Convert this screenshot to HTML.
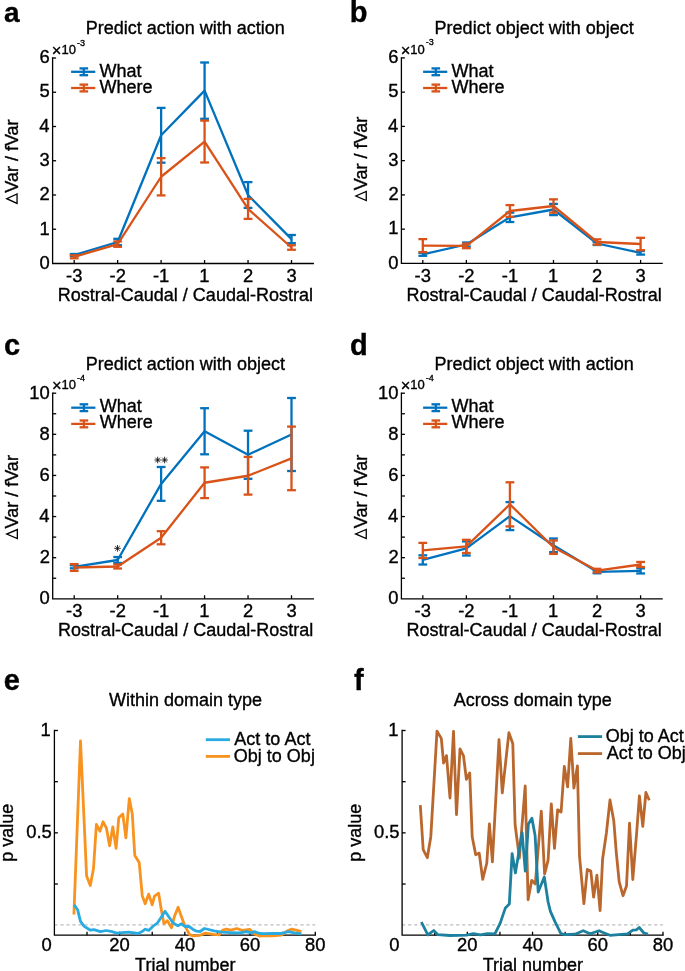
<!DOCTYPE html>
<html><head><meta charset="utf-8"><style>
html,body{margin:0;padding:0;background:#fff;width:685px;height:971px;overflow:hidden;}
svg{display:block;will-change:transform;}
text{font-family:"Liberation Sans",sans-serif;stroke:#000;stroke-width:0.35px;}
</style></head><body>
<svg width="685" height="971" viewBox="0 0 685 971">
<rect width="685" height="971" fill="#fff"/>
<path d="M52.60,58.00 L52.60,263.50 L313.30,263.50" fill="none" stroke="#000" stroke-width="1.3" stroke-linejoin="miter" stroke-linecap="square"/>
<text x="39.39" y="268.83" font-size="18.4" text-anchor="start" fill="#000">0</text>
<line x1="52.60" y1="229.25" x2="56.10" y2="229.25" stroke="#000" stroke-width="1.3"/>
<text x="39.57" y="234.58" font-size="18.4" text-anchor="start" fill="#000">1</text>
<line x1="52.60" y1="195.00" x2="56.10" y2="195.00" stroke="#000" stroke-width="1.3"/>
<text x="39.59" y="200.42" font-size="18.4" text-anchor="start" fill="#000">2</text>
<line x1="52.60" y1="160.75" x2="56.10" y2="160.75" stroke="#000" stroke-width="1.3"/>
<text x="39.48" y="166.08" font-size="18.4" text-anchor="start" fill="#000">3</text>
<line x1="52.60" y1="126.50" x2="56.10" y2="126.50" stroke="#000" stroke-width="1.3"/>
<text x="39.21" y="131.83" font-size="18.4" text-anchor="start" fill="#000">4</text>
<line x1="52.60" y1="92.25" x2="56.10" y2="92.25" stroke="#000" stroke-width="1.3"/>
<text x="39.44" y="97.49" font-size="18.4" text-anchor="start" fill="#000">5</text>
<line x1="52.60" y1="58.00" x2="56.10" y2="58.00" stroke="#000" stroke-width="1.3"/>
<text x="39.48" y="63.33" font-size="18.4" text-anchor="start" fill="#000">6</text>
<line x1="74.20" y1="263.50" x2="74.20" y2="260.00" stroke="#000" stroke-width="1.3"/>
<text x="66.02" y="281.85" font-size="18.4" text-anchor="start" fill="#000">-3</text>
<line x1="117.66" y1="263.50" x2="117.66" y2="260.00" stroke="#000" stroke-width="1.3"/>
<text x="109.53" y="281.85" font-size="18.4" text-anchor="start" fill="#000">-2</text>
<line x1="161.12" y1="263.50" x2="161.12" y2="260.00" stroke="#000" stroke-width="1.3"/>
<text x="152.98" y="281.66" font-size="18.4" text-anchor="start" fill="#000">-1</text>
<line x1="204.58" y1="263.50" x2="204.58" y2="260.00" stroke="#000" stroke-width="1.3"/>
<text x="199.21" y="281.66" font-size="18.4" text-anchor="start" fill="#000">1</text>
<line x1="248.04" y1="263.50" x2="248.04" y2="260.00" stroke="#000" stroke-width="1.3"/>
<text x="242.92" y="281.85" font-size="18.4" text-anchor="start" fill="#000">2</text>
<line x1="291.50" y1="263.50" x2="291.50" y2="260.00" stroke="#000" stroke-width="1.3"/>
<text x="286.44" y="281.85" font-size="18.4" text-anchor="start" fill="#000">3</text>
<text x="51.86" y="56.10" font-size="16.5" text-anchor="start" fill="#000">×</text>
<text x="61.41" y="53.80" font-size="13.0" text-anchor="start" fill="#000">10</text>
<text x="76.90" y="45.50" font-size="9.0" text-anchor="start" fill="#000">-3</text>
<text x="85.72" y="33.80" font-size="18" text-anchor="start" fill="#000">Predict action with action</text>
<text x="57.82" y="300.80" font-size="18" text-anchor="start" fill="#000">Rostral-Caudal / Caudal-Rostral</text>
<path d="M17.05,203.40 L17.05,193.90 L6.70,198.65 Z" fill="none" stroke="#000" stroke-width="1.3" stroke-linejoin="miter"/>
<text transform="translate(17.70,192.78) rotate(-90)" font-size="18">Var / fVar</text>
<text x="3.88" y="21.70" font-size="28" font-weight="bold" text-anchor="start" fill="#000">a</text>
<line x1="74.20" y1="254.00" x2="74.20" y2="256.00" stroke="#0072BD" stroke-width="2.3"/>
<line x1="69.80" y1="254.00" x2="78.60" y2="254.00" stroke="#0072BD" stroke-width="2.3"/>
<line x1="69.80" y1="256.00" x2="78.60" y2="256.00" stroke="#0072BD" stroke-width="2.3"/>
<line x1="117.66" y1="238.80" x2="117.66" y2="245.20" stroke="#0072BD" stroke-width="2.3"/>
<line x1="113.26" y1="238.80" x2="122.06" y2="238.80" stroke="#0072BD" stroke-width="2.3"/>
<line x1="113.26" y1="245.20" x2="122.06" y2="245.20" stroke="#0072BD" stroke-width="2.3"/>
<line x1="161.12" y1="107.90" x2="161.12" y2="162.70" stroke="#0072BD" stroke-width="2.3"/>
<line x1="156.72" y1="107.90" x2="165.52" y2="107.90" stroke="#0072BD" stroke-width="2.3"/>
<line x1="156.72" y1="162.70" x2="165.52" y2="162.70" stroke="#0072BD" stroke-width="2.3"/>
<line x1="204.58" y1="62.50" x2="204.58" y2="118.80" stroke="#0072BD" stroke-width="2.3"/>
<line x1="200.18" y1="62.50" x2="208.98" y2="62.50" stroke="#0072BD" stroke-width="2.3"/>
<line x1="200.18" y1="118.80" x2="208.98" y2="118.80" stroke="#0072BD" stroke-width="2.3"/>
<line x1="248.04" y1="182.10" x2="248.04" y2="207.90" stroke="#0072BD" stroke-width="2.3"/>
<line x1="243.64" y1="182.10" x2="252.44" y2="182.10" stroke="#0072BD" stroke-width="2.3"/>
<line x1="243.64" y1="207.90" x2="252.44" y2="207.90" stroke="#0072BD" stroke-width="2.3"/>
<line x1="291.50" y1="235.00" x2="291.50" y2="243.20" stroke="#0072BD" stroke-width="2.3"/>
<line x1="287.10" y1="235.00" x2="295.90" y2="235.00" stroke="#0072BD" stroke-width="2.3"/>
<line x1="287.10" y1="243.20" x2="295.90" y2="243.20" stroke="#0072BD" stroke-width="2.3"/>
<polyline points="74.20,255.00 117.66,242.00 161.12,135.30 204.58,90.65 248.04,195.00 291.50,239.10" fill="none" stroke="#0072BD" stroke-width="2.3" stroke-linejoin="round" stroke-linecap="butt"/>
<line x1="74.20" y1="255.30" x2="74.20" y2="258.30" stroke="#D95319" stroke-width="2.3"/>
<line x1="69.80" y1="255.30" x2="78.60" y2="255.30" stroke="#D95319" stroke-width="2.3"/>
<line x1="69.80" y1="258.30" x2="78.60" y2="258.30" stroke="#D95319" stroke-width="2.3"/>
<line x1="117.66" y1="241.40" x2="117.66" y2="246.80" stroke="#D95319" stroke-width="2.3"/>
<line x1="113.26" y1="241.40" x2="122.06" y2="241.40" stroke="#D95319" stroke-width="2.3"/>
<line x1="113.26" y1="246.80" x2="122.06" y2="246.80" stroke="#D95319" stroke-width="2.3"/>
<line x1="161.12" y1="158.10" x2="161.12" y2="195.40" stroke="#D95319" stroke-width="2.3"/>
<line x1="156.72" y1="158.10" x2="165.52" y2="158.10" stroke="#D95319" stroke-width="2.3"/>
<line x1="156.72" y1="195.40" x2="165.52" y2="195.40" stroke="#D95319" stroke-width="2.3"/>
<line x1="204.58" y1="120.60" x2="204.58" y2="162.50" stroke="#D95319" stroke-width="2.3"/>
<line x1="200.18" y1="120.60" x2="208.98" y2="120.60" stroke="#D95319" stroke-width="2.3"/>
<line x1="200.18" y1="162.50" x2="208.98" y2="162.50" stroke="#D95319" stroke-width="2.3"/>
<line x1="248.04" y1="198.90" x2="248.04" y2="218.90" stroke="#D95319" stroke-width="2.3"/>
<line x1="243.64" y1="198.90" x2="252.44" y2="198.90" stroke="#D95319" stroke-width="2.3"/>
<line x1="243.64" y1="218.90" x2="252.44" y2="218.90" stroke="#D95319" stroke-width="2.3"/>
<line x1="291.50" y1="245.25" x2="291.50" y2="249.75" stroke="#D95319" stroke-width="2.3"/>
<line x1="287.10" y1="245.25" x2="295.90" y2="245.25" stroke="#D95319" stroke-width="2.3"/>
<line x1="287.10" y1="249.75" x2="295.90" y2="249.75" stroke="#D95319" stroke-width="2.3"/>
<polyline points="74.20,256.80 117.66,244.10 161.12,176.75 204.58,141.55 248.04,208.90 291.50,247.50" fill="none" stroke="#D95319" stroke-width="2.3" stroke-linejoin="round" stroke-linecap="butt"/>
<line x1="71.10" y1="71.80" x2="95.30" y2="71.80" stroke="#0072BD" stroke-width="2.3"/>
<line x1="83.80" y1="68.40" x2="83.80" y2="75.20" stroke="#0072BD" stroke-width="2.3"/>
<line x1="79.50" y1="68.40" x2="88.10" y2="68.40" stroke="#0072BD" stroke-width="2.3"/>
<line x1="79.50" y1="75.20" x2="88.10" y2="75.20" stroke="#0072BD" stroke-width="2.3"/>
<line x1="71.10" y1="88.00" x2="95.30" y2="88.00" stroke="#D95319" stroke-width="2.3"/>
<line x1="83.80" y1="84.60" x2="83.80" y2="91.40" stroke="#D95319" stroke-width="2.3"/>
<line x1="79.50" y1="84.60" x2="88.10" y2="84.60" stroke="#D95319" stroke-width="2.3"/>
<line x1="79.50" y1="91.40" x2="88.10" y2="91.40" stroke="#D95319" stroke-width="2.3"/>
<text x="99.62" y="76.50" font-size="18" text-anchor="start" fill="#000">What</text>
<text x="99.62" y="92.50" font-size="18" text-anchor="start" fill="#000">Where</text>
<path d="M401.40,57.90 L401.40,263.40 L662.10,263.40" fill="none" stroke="#000" stroke-width="1.3" stroke-linejoin="miter" stroke-linecap="square"/>
<text x="388.19" y="268.73" font-size="18.4" text-anchor="start" fill="#000">0</text>
<line x1="401.40" y1="229.15" x2="404.90" y2="229.15" stroke="#000" stroke-width="1.3"/>
<text x="388.37" y="234.48" font-size="18.4" text-anchor="start" fill="#000">1</text>
<line x1="401.40" y1="194.90" x2="404.90" y2="194.90" stroke="#000" stroke-width="1.3"/>
<text x="388.39" y="200.32" font-size="18.4" text-anchor="start" fill="#000">2</text>
<line x1="401.40" y1="160.65" x2="404.90" y2="160.65" stroke="#000" stroke-width="1.3"/>
<text x="388.28" y="165.98" font-size="18.4" text-anchor="start" fill="#000">3</text>
<line x1="401.40" y1="126.40" x2="404.90" y2="126.40" stroke="#000" stroke-width="1.3"/>
<text x="388.01" y="131.73" font-size="18.4" text-anchor="start" fill="#000">4</text>
<line x1="401.40" y1="92.15" x2="404.90" y2="92.15" stroke="#000" stroke-width="1.3"/>
<text x="388.24" y="97.39" font-size="18.4" text-anchor="start" fill="#000">5</text>
<line x1="401.40" y1="57.90" x2="404.90" y2="57.90" stroke="#000" stroke-width="1.3"/>
<text x="388.28" y="63.23" font-size="18.4" text-anchor="start" fill="#000">6</text>
<line x1="422.80" y1="263.40" x2="422.80" y2="259.90" stroke="#000" stroke-width="1.3"/>
<text x="414.62" y="281.75" font-size="18.4" text-anchor="start" fill="#000">-3</text>
<line x1="466.36" y1="263.40" x2="466.36" y2="259.90" stroke="#000" stroke-width="1.3"/>
<text x="458.23" y="281.75" font-size="18.4" text-anchor="start" fill="#000">-2</text>
<line x1="509.92" y1="263.40" x2="509.92" y2="259.90" stroke="#000" stroke-width="1.3"/>
<text x="501.78" y="281.56" font-size="18.4" text-anchor="start" fill="#000">-1</text>
<line x1="553.48" y1="263.40" x2="553.48" y2="259.90" stroke="#000" stroke-width="1.3"/>
<text x="548.11" y="281.56" font-size="18.4" text-anchor="start" fill="#000">1</text>
<line x1="597.04" y1="263.40" x2="597.04" y2="259.90" stroke="#000" stroke-width="1.3"/>
<text x="591.92" y="281.75" font-size="18.4" text-anchor="start" fill="#000">2</text>
<line x1="640.60" y1="263.40" x2="640.60" y2="259.90" stroke="#000" stroke-width="1.3"/>
<text x="635.54" y="281.75" font-size="18.4" text-anchor="start" fill="#000">3</text>
<text x="400.66" y="56.00" font-size="16.5" text-anchor="start" fill="#000">×</text>
<text x="410.21" y="53.70" font-size="13.0" text-anchor="start" fill="#000">10</text>
<text x="425.70" y="45.40" font-size="9.0" text-anchor="start" fill="#000">-3</text>
<text x="434.62" y="33.90" font-size="18" text-anchor="start" fill="#000">Predict object with object</text>
<text x="406.62" y="300.80" font-size="18" text-anchor="start" fill="#000">Rostral-Caudal / Caudal-Rostral</text>
<path d="M366.25,200.50 L366.25,191.50 L355.90,196.00 Z" fill="none" stroke="#000" stroke-width="1.3" stroke-linejoin="miter"/>
<text transform="translate(366.60,190.18) rotate(-90)" font-size="18">Var / fVar</text>
<text x="349.79" y="21.80" font-size="29" font-weight="bold" text-anchor="start" fill="#000">b</text>
<line x1="422.80" y1="252.80" x2="422.80" y2="255.80" stroke="#0072BD" stroke-width="2.3"/>
<line x1="418.40" y1="252.80" x2="427.20" y2="252.80" stroke="#0072BD" stroke-width="2.3"/>
<line x1="418.40" y1="255.80" x2="427.20" y2="255.80" stroke="#0072BD" stroke-width="2.3"/>
<line x1="466.36" y1="242.50" x2="466.36" y2="246.50" stroke="#0072BD" stroke-width="2.3"/>
<line x1="461.96" y1="242.50" x2="470.76" y2="242.50" stroke="#0072BD" stroke-width="2.3"/>
<line x1="461.96" y1="246.50" x2="470.76" y2="246.50" stroke="#0072BD" stroke-width="2.3"/>
<line x1="509.92" y1="212.60" x2="509.92" y2="222.00" stroke="#0072BD" stroke-width="2.3"/>
<line x1="505.52" y1="212.60" x2="514.32" y2="212.60" stroke="#0072BD" stroke-width="2.3"/>
<line x1="505.52" y1="222.00" x2="514.32" y2="222.00" stroke="#0072BD" stroke-width="2.3"/>
<line x1="553.48" y1="203.90" x2="553.48" y2="215.10" stroke="#0072BD" stroke-width="2.3"/>
<line x1="549.08" y1="203.90" x2="557.88" y2="203.90" stroke="#0072BD" stroke-width="2.3"/>
<line x1="549.08" y1="215.10" x2="557.88" y2="215.10" stroke="#0072BD" stroke-width="2.3"/>
<line x1="597.04" y1="242.00" x2="597.04" y2="245.00" stroke="#0072BD" stroke-width="2.3"/>
<line x1="592.64" y1="242.00" x2="601.44" y2="242.00" stroke="#0072BD" stroke-width="2.3"/>
<line x1="592.64" y1="245.00" x2="601.44" y2="245.00" stroke="#0072BD" stroke-width="2.3"/>
<line x1="640.60" y1="251.00" x2="640.60" y2="254.60" stroke="#0072BD" stroke-width="2.3"/>
<line x1="636.20" y1="251.00" x2="645.00" y2="251.00" stroke="#0072BD" stroke-width="2.3"/>
<line x1="636.20" y1="254.60" x2="645.00" y2="254.60" stroke="#0072BD" stroke-width="2.3"/>
<polyline points="422.80,254.30 466.36,244.50 509.92,217.30 553.48,209.50 597.04,243.50 640.60,252.80" fill="none" stroke="#0072BD" stroke-width="2.3" stroke-linejoin="round" stroke-linecap="butt"/>
<line x1="422.80" y1="239.10" x2="422.80" y2="252.10" stroke="#D95319" stroke-width="2.3"/>
<line x1="418.40" y1="239.10" x2="427.20" y2="239.10" stroke="#D95319" stroke-width="2.3"/>
<line x1="418.40" y1="252.10" x2="427.20" y2="252.10" stroke="#D95319" stroke-width="2.3"/>
<line x1="466.36" y1="243.60" x2="466.36" y2="248.20" stroke="#D95319" stroke-width="2.3"/>
<line x1="461.96" y1="243.60" x2="470.76" y2="243.60" stroke="#D95319" stroke-width="2.3"/>
<line x1="461.96" y1="248.20" x2="470.76" y2="248.20" stroke="#D95319" stroke-width="2.3"/>
<line x1="509.92" y1="205.10" x2="509.92" y2="216.90" stroke="#D95319" stroke-width="2.3"/>
<line x1="505.52" y1="205.10" x2="514.32" y2="205.10" stroke="#D95319" stroke-width="2.3"/>
<line x1="505.52" y1="216.90" x2="514.32" y2="216.90" stroke="#D95319" stroke-width="2.3"/>
<line x1="553.48" y1="199.35" x2="553.48" y2="212.65" stroke="#D95319" stroke-width="2.3"/>
<line x1="549.08" y1="199.35" x2="557.88" y2="199.35" stroke="#D95319" stroke-width="2.3"/>
<line x1="549.08" y1="212.65" x2="557.88" y2="212.65" stroke="#D95319" stroke-width="2.3"/>
<line x1="597.04" y1="239.35" x2="597.04" y2="244.65" stroke="#D95319" stroke-width="2.3"/>
<line x1="592.64" y1="239.35" x2="601.44" y2="239.35" stroke="#D95319" stroke-width="2.3"/>
<line x1="592.64" y1="244.65" x2="601.44" y2="244.65" stroke="#D95319" stroke-width="2.3"/>
<line x1="640.60" y1="237.80" x2="640.60" y2="250.20" stroke="#D95319" stroke-width="2.3"/>
<line x1="636.20" y1="237.80" x2="645.00" y2="237.80" stroke="#D95319" stroke-width="2.3"/>
<line x1="636.20" y1="250.20" x2="645.00" y2="250.20" stroke="#D95319" stroke-width="2.3"/>
<polyline points="422.80,245.60 466.36,245.90 509.92,211.00 553.48,206.00 597.04,242.00 640.60,244.00" fill="none" stroke="#D95319" stroke-width="2.3" stroke-linejoin="round" stroke-linecap="butt"/>
<line x1="423.10" y1="71.80" x2="447.30" y2="71.80" stroke="#0072BD" stroke-width="2.3"/>
<line x1="435.80" y1="68.40" x2="435.80" y2="75.20" stroke="#0072BD" stroke-width="2.3"/>
<line x1="431.50" y1="68.40" x2="440.10" y2="68.40" stroke="#0072BD" stroke-width="2.3"/>
<line x1="431.50" y1="75.20" x2="440.10" y2="75.20" stroke="#0072BD" stroke-width="2.3"/>
<line x1="423.10" y1="88.00" x2="447.30" y2="88.00" stroke="#D95319" stroke-width="2.3"/>
<line x1="435.80" y1="84.60" x2="435.80" y2="91.40" stroke="#D95319" stroke-width="2.3"/>
<line x1="431.50" y1="84.60" x2="440.10" y2="84.60" stroke="#D95319" stroke-width="2.3"/>
<line x1="431.50" y1="91.40" x2="440.10" y2="91.40" stroke="#D95319" stroke-width="2.3"/>
<text x="451.62" y="76.50" font-size="18" text-anchor="start" fill="#000">What</text>
<text x="451.62" y="92.50" font-size="18" text-anchor="start" fill="#000">Where</text>
<path d="M52.70,393.20 L52.70,598.80 L313.40,598.80" fill="none" stroke="#000" stroke-width="1.3" stroke-linejoin="miter" stroke-linecap="square"/>
<text x="39.49" y="604.13" font-size="18.4" text-anchor="start" fill="#000">0</text>
<line x1="52.70" y1="578.24" x2="56.20" y2="578.24" stroke="#000" stroke-width="1.3"/>
<line x1="52.70" y1="557.68" x2="56.20" y2="557.68" stroke="#000" stroke-width="1.3"/>
<text x="39.69" y="563.10" font-size="18.4" text-anchor="start" fill="#000">2</text>
<line x1="52.70" y1="537.12" x2="56.20" y2="537.12" stroke="#000" stroke-width="1.3"/>
<line x1="52.70" y1="516.56" x2="56.20" y2="516.56" stroke="#000" stroke-width="1.3"/>
<text x="39.31" y="521.89" font-size="18.4" text-anchor="start" fill="#000">4</text>
<line x1="52.70" y1="496.00" x2="56.20" y2="496.00" stroke="#000" stroke-width="1.3"/>
<line x1="52.70" y1="475.44" x2="56.20" y2="475.44" stroke="#000" stroke-width="1.3"/>
<text x="39.58" y="480.77" font-size="18.4" text-anchor="start" fill="#000">6</text>
<line x1="52.70" y1="454.88" x2="56.20" y2="454.88" stroke="#000" stroke-width="1.3"/>
<line x1="52.70" y1="434.32" x2="56.20" y2="434.32" stroke="#000" stroke-width="1.3"/>
<text x="39.57" y="439.65" font-size="18.4" text-anchor="start" fill="#000">8</text>
<line x1="52.70" y1="413.76" x2="56.20" y2="413.76" stroke="#000" stroke-width="1.3"/>
<line x1="52.70" y1="393.20" x2="56.20" y2="393.20" stroke="#000" stroke-width="1.3"/>
<text x="29.25" y="398.53" font-size="18.4" text-anchor="start" fill="#000">10</text>
<line x1="74.20" y1="598.80" x2="74.20" y2="595.30" stroke="#000" stroke-width="1.3"/>
<text x="66.02" y="617.15" font-size="18.4" text-anchor="start" fill="#000">-3</text>
<line x1="117.66" y1="598.80" x2="117.66" y2="595.30" stroke="#000" stroke-width="1.3"/>
<text x="109.53" y="617.15" font-size="18.4" text-anchor="start" fill="#000">-2</text>
<line x1="161.12" y1="598.80" x2="161.12" y2="595.30" stroke="#000" stroke-width="1.3"/>
<text x="152.98" y="616.96" font-size="18.4" text-anchor="start" fill="#000">-1</text>
<line x1="204.58" y1="598.80" x2="204.58" y2="595.30" stroke="#000" stroke-width="1.3"/>
<text x="199.21" y="616.96" font-size="18.4" text-anchor="start" fill="#000">1</text>
<line x1="248.04" y1="598.80" x2="248.04" y2="595.30" stroke="#000" stroke-width="1.3"/>
<text x="242.92" y="617.15" font-size="18.4" text-anchor="start" fill="#000">2</text>
<line x1="291.50" y1="598.80" x2="291.50" y2="595.30" stroke="#000" stroke-width="1.3"/>
<text x="286.44" y="617.15" font-size="18.4" text-anchor="start" fill="#000">3</text>
<text x="51.96" y="391.30" font-size="16.5" text-anchor="start" fill="#000">×</text>
<text x="61.51" y="389.00" font-size="13.0" text-anchor="start" fill="#000">10</text>
<text x="77.00" y="380.70" font-size="9.0" text-anchor="start" fill="#000">-4</text>
<text x="85.82" y="369.50" font-size="18" text-anchor="start" fill="#000">Predict action with object</text>
<text x="58.12" y="636.40" font-size="18" text-anchor="start" fill="#000">Rostral-Caudal / Caudal-Rostral</text>
<path d="M17.35,538.60 L17.35,529.55 L6.70,534.08 Z" fill="none" stroke="#000" stroke-width="1.3" stroke-linejoin="miter"/>
<text transform="translate(17.80,528.48) rotate(-90)" font-size="18">Var / fVar</text>
<text x="3.97" y="355.30" font-size="29" font-weight="bold" text-anchor="start" fill="#000">c</text>
<line x1="74.20" y1="565.30" x2="74.20" y2="568.30" stroke="#0072BD" stroke-width="2.3"/>
<line x1="69.80" y1="565.30" x2="78.60" y2="565.30" stroke="#0072BD" stroke-width="2.3"/>
<line x1="69.80" y1="568.30" x2="78.60" y2="568.30" stroke="#0072BD" stroke-width="2.3"/>
<line x1="117.66" y1="557.05" x2="117.66" y2="562.95" stroke="#0072BD" stroke-width="2.3"/>
<line x1="113.26" y1="557.05" x2="122.06" y2="557.05" stroke="#0072BD" stroke-width="2.3"/>
<line x1="113.26" y1="562.95" x2="122.06" y2="562.95" stroke="#0072BD" stroke-width="2.3"/>
<line x1="161.12" y1="467.00" x2="161.12" y2="500.80" stroke="#0072BD" stroke-width="2.3"/>
<line x1="156.72" y1="467.00" x2="165.52" y2="467.00" stroke="#0072BD" stroke-width="2.3"/>
<line x1="156.72" y1="500.80" x2="165.52" y2="500.80" stroke="#0072BD" stroke-width="2.3"/>
<line x1="204.58" y1="408.20" x2="204.58" y2="454.30" stroke="#0072BD" stroke-width="2.3"/>
<line x1="200.18" y1="408.20" x2="208.98" y2="408.20" stroke="#0072BD" stroke-width="2.3"/>
<line x1="200.18" y1="454.30" x2="208.98" y2="454.30" stroke="#0072BD" stroke-width="2.3"/>
<line x1="248.04" y1="430.70" x2="248.04" y2="478.80" stroke="#0072BD" stroke-width="2.3"/>
<line x1="243.64" y1="430.70" x2="252.44" y2="430.70" stroke="#0072BD" stroke-width="2.3"/>
<line x1="243.64" y1="478.80" x2="252.44" y2="478.80" stroke="#0072BD" stroke-width="2.3"/>
<line x1="291.50" y1="398.00" x2="291.50" y2="471.00" stroke="#0072BD" stroke-width="2.3"/>
<line x1="287.10" y1="398.00" x2="295.90" y2="398.00" stroke="#0072BD" stroke-width="2.3"/>
<line x1="287.10" y1="471.00" x2="295.90" y2="471.00" stroke="#0072BD" stroke-width="2.3"/>
<polyline points="74.20,566.80 117.66,560.00 161.12,483.90 204.58,431.25 248.04,454.75 291.50,434.50" fill="none" stroke="#0072BD" stroke-width="2.3" stroke-linejoin="round" stroke-linecap="butt"/>
<line x1="74.20" y1="564.10" x2="74.20" y2="570.90" stroke="#D95319" stroke-width="2.3"/>
<line x1="69.80" y1="564.10" x2="78.60" y2="564.10" stroke="#D95319" stroke-width="2.3"/>
<line x1="69.80" y1="570.90" x2="78.60" y2="570.90" stroke="#D95319" stroke-width="2.3"/>
<line x1="117.66" y1="564.50" x2="117.66" y2="568.50" stroke="#D95319" stroke-width="2.3"/>
<line x1="113.26" y1="564.50" x2="122.06" y2="564.50" stroke="#D95319" stroke-width="2.3"/>
<line x1="113.26" y1="568.50" x2="122.06" y2="568.50" stroke="#D95319" stroke-width="2.3"/>
<line x1="161.12" y1="531.20" x2="161.12" y2="544.30" stroke="#D95319" stroke-width="2.3"/>
<line x1="156.72" y1="531.20" x2="165.52" y2="531.20" stroke="#D95319" stroke-width="2.3"/>
<line x1="156.72" y1="544.30" x2="165.52" y2="544.30" stroke="#D95319" stroke-width="2.3"/>
<line x1="204.58" y1="467.40" x2="204.58" y2="498.10" stroke="#D95319" stroke-width="2.3"/>
<line x1="200.18" y1="467.40" x2="208.98" y2="467.40" stroke="#D95319" stroke-width="2.3"/>
<line x1="200.18" y1="498.10" x2="208.98" y2="498.10" stroke="#D95319" stroke-width="2.3"/>
<line x1="248.04" y1="456.90" x2="248.04" y2="494.60" stroke="#D95319" stroke-width="2.3"/>
<line x1="243.64" y1="456.90" x2="252.44" y2="456.90" stroke="#D95319" stroke-width="2.3"/>
<line x1="243.64" y1="494.60" x2="252.44" y2="494.60" stroke="#D95319" stroke-width="2.3"/>
<line x1="291.50" y1="426.60" x2="291.50" y2="490.20" stroke="#D95319" stroke-width="2.3"/>
<line x1="287.10" y1="426.60" x2="295.90" y2="426.60" stroke="#D95319" stroke-width="2.3"/>
<line x1="287.10" y1="490.20" x2="295.90" y2="490.20" stroke="#D95319" stroke-width="2.3"/>
<polyline points="74.20,567.50 117.66,566.50 161.12,537.75 204.58,482.75 248.04,475.75 291.50,458.40" fill="none" stroke="#D95319" stroke-width="2.3" stroke-linejoin="round" stroke-linecap="butt"/>
<line x1="71.20" y1="407.70" x2="95.40" y2="407.70" stroke="#0072BD" stroke-width="2.3"/>
<line x1="83.90" y1="404.30" x2="83.90" y2="411.10" stroke="#0072BD" stroke-width="2.3"/>
<line x1="79.60" y1="404.30" x2="88.20" y2="404.30" stroke="#0072BD" stroke-width="2.3"/>
<line x1="79.60" y1="411.10" x2="88.20" y2="411.10" stroke="#0072BD" stroke-width="2.3"/>
<line x1="71.20" y1="423.90" x2="95.40" y2="423.90" stroke="#D95319" stroke-width="2.3"/>
<line x1="83.90" y1="420.50" x2="83.90" y2="427.30" stroke="#D95319" stroke-width="2.3"/>
<line x1="79.60" y1="420.50" x2="88.20" y2="420.50" stroke="#D95319" stroke-width="2.3"/>
<line x1="79.60" y1="427.30" x2="88.20" y2="427.30" stroke="#D95319" stroke-width="2.3"/>
<text x="99.72" y="412.40" font-size="18" text-anchor="start" fill="#000">What</text>
<text x="99.72" y="428.40" font-size="18" text-anchor="start" fill="#000">Where</text>
<path d="M401.40,393.20 L401.40,598.80 L662.10,598.80" fill="none" stroke="#000" stroke-width="1.3" stroke-linejoin="miter" stroke-linecap="square"/>
<text x="388.19" y="604.13" font-size="18.4" text-anchor="start" fill="#000">0</text>
<line x1="401.40" y1="578.24" x2="404.90" y2="578.24" stroke="#000" stroke-width="1.3"/>
<line x1="401.40" y1="557.68" x2="404.90" y2="557.68" stroke="#000" stroke-width="1.3"/>
<text x="388.39" y="563.10" font-size="18.4" text-anchor="start" fill="#000">2</text>
<line x1="401.40" y1="537.12" x2="404.90" y2="537.12" stroke="#000" stroke-width="1.3"/>
<line x1="401.40" y1="516.56" x2="404.90" y2="516.56" stroke="#000" stroke-width="1.3"/>
<text x="388.01" y="521.89" font-size="18.4" text-anchor="start" fill="#000">4</text>
<line x1="401.40" y1="496.00" x2="404.90" y2="496.00" stroke="#000" stroke-width="1.3"/>
<line x1="401.40" y1="475.44" x2="404.90" y2="475.44" stroke="#000" stroke-width="1.3"/>
<text x="388.28" y="480.77" font-size="18.4" text-anchor="start" fill="#000">6</text>
<line x1="401.40" y1="454.88" x2="404.90" y2="454.88" stroke="#000" stroke-width="1.3"/>
<line x1="401.40" y1="434.32" x2="404.90" y2="434.32" stroke="#000" stroke-width="1.3"/>
<text x="388.27" y="439.65" font-size="18.4" text-anchor="start" fill="#000">8</text>
<line x1="401.40" y1="413.76" x2="404.90" y2="413.76" stroke="#000" stroke-width="1.3"/>
<line x1="401.40" y1="393.20" x2="404.90" y2="393.20" stroke="#000" stroke-width="1.3"/>
<text x="377.95" y="398.53" font-size="18.4" text-anchor="start" fill="#000">10</text>
<line x1="422.80" y1="598.80" x2="422.80" y2="595.30" stroke="#000" stroke-width="1.3"/>
<text x="414.62" y="617.15" font-size="18.4" text-anchor="start" fill="#000">-3</text>
<line x1="466.36" y1="598.80" x2="466.36" y2="595.30" stroke="#000" stroke-width="1.3"/>
<text x="458.23" y="617.15" font-size="18.4" text-anchor="start" fill="#000">-2</text>
<line x1="509.92" y1="598.80" x2="509.92" y2="595.30" stroke="#000" stroke-width="1.3"/>
<text x="501.78" y="616.96" font-size="18.4" text-anchor="start" fill="#000">-1</text>
<line x1="553.48" y1="598.80" x2="553.48" y2="595.30" stroke="#000" stroke-width="1.3"/>
<text x="548.11" y="616.96" font-size="18.4" text-anchor="start" fill="#000">1</text>
<line x1="597.04" y1="598.80" x2="597.04" y2="595.30" stroke="#000" stroke-width="1.3"/>
<text x="591.92" y="617.15" font-size="18.4" text-anchor="start" fill="#000">2</text>
<line x1="640.60" y1="598.80" x2="640.60" y2="595.30" stroke="#000" stroke-width="1.3"/>
<text x="635.54" y="617.15" font-size="18.4" text-anchor="start" fill="#000">3</text>
<text x="400.66" y="391.30" font-size="16.5" text-anchor="start" fill="#000">×</text>
<text x="410.21" y="389.00" font-size="13.0" text-anchor="start" fill="#000">10</text>
<text x="425.70" y="380.70" font-size="9.0" text-anchor="start" fill="#000">-4</text>
<text x="434.62" y="369.60" font-size="18" text-anchor="start" fill="#000">Predict object with action</text>
<text x="406.62" y="636.30" font-size="18" text-anchor="start" fill="#000">Rostral-Caudal / Caudal-Rostral</text>
<path d="M366.25,538.50 L366.25,529.40 L355.60,533.95 Z" fill="none" stroke="#000" stroke-width="1.3" stroke-linejoin="miter"/>
<text transform="translate(366.60,528.18) rotate(-90)" font-size="18">Var / fVar</text>
<text x="349.91" y="355.30" font-size="29" font-weight="bold" text-anchor="start" fill="#000">d</text>
<line x1="422.80" y1="555.30" x2="422.80" y2="564.50" stroke="#0072BD" stroke-width="2.3"/>
<line x1="418.40" y1="555.30" x2="427.20" y2="555.30" stroke="#0072BD" stroke-width="2.3"/>
<line x1="418.40" y1="564.50" x2="427.20" y2="564.50" stroke="#0072BD" stroke-width="2.3"/>
<line x1="466.36" y1="541.40" x2="466.36" y2="555.50" stroke="#0072BD" stroke-width="2.3"/>
<line x1="461.96" y1="541.40" x2="470.76" y2="541.40" stroke="#0072BD" stroke-width="2.3"/>
<line x1="461.96" y1="555.50" x2="470.76" y2="555.50" stroke="#0072BD" stroke-width="2.3"/>
<line x1="509.92" y1="502.10" x2="509.92" y2="530.10" stroke="#0072BD" stroke-width="2.3"/>
<line x1="505.52" y1="502.10" x2="514.32" y2="502.10" stroke="#0072BD" stroke-width="2.3"/>
<line x1="505.52" y1="530.10" x2="514.32" y2="530.10" stroke="#0072BD" stroke-width="2.3"/>
<line x1="553.48" y1="538.50" x2="553.48" y2="552.10" stroke="#0072BD" stroke-width="2.3"/>
<line x1="549.08" y1="538.50" x2="557.88" y2="538.50" stroke="#0072BD" stroke-width="2.3"/>
<line x1="549.08" y1="552.10" x2="557.88" y2="552.10" stroke="#0072BD" stroke-width="2.3"/>
<line x1="597.04" y1="570.30" x2="597.04" y2="573.30" stroke="#0072BD" stroke-width="2.3"/>
<line x1="592.64" y1="570.30" x2="601.44" y2="570.30" stroke="#0072BD" stroke-width="2.3"/>
<line x1="592.64" y1="573.30" x2="601.44" y2="573.30" stroke="#0072BD" stroke-width="2.3"/>
<line x1="640.60" y1="568.35" x2="640.60" y2="573.45" stroke="#0072BD" stroke-width="2.3"/>
<line x1="636.20" y1="568.35" x2="645.00" y2="568.35" stroke="#0072BD" stroke-width="2.3"/>
<line x1="636.20" y1="573.45" x2="645.00" y2="573.45" stroke="#0072BD" stroke-width="2.3"/>
<polyline points="422.80,559.90 466.36,548.45 509.92,516.10 553.48,545.30 597.04,571.80 640.60,570.90" fill="none" stroke="#0072BD" stroke-width="2.3" stroke-linejoin="round" stroke-linecap="butt"/>
<line x1="422.80" y1="542.90" x2="422.80" y2="558.00" stroke="#D95319" stroke-width="2.3"/>
<line x1="418.40" y1="542.90" x2="427.20" y2="542.90" stroke="#D95319" stroke-width="2.3"/>
<line x1="418.40" y1="558.00" x2="427.20" y2="558.00" stroke="#D95319" stroke-width="2.3"/>
<line x1="466.36" y1="539.80" x2="466.36" y2="553.00" stroke="#D95319" stroke-width="2.3"/>
<line x1="461.96" y1="539.80" x2="470.76" y2="539.80" stroke="#D95319" stroke-width="2.3"/>
<line x1="461.96" y1="553.00" x2="470.76" y2="553.00" stroke="#D95319" stroke-width="2.3"/>
<line x1="509.92" y1="482.30" x2="509.92" y2="526.40" stroke="#D95319" stroke-width="2.3"/>
<line x1="505.52" y1="482.30" x2="514.32" y2="482.30" stroke="#D95319" stroke-width="2.3"/>
<line x1="505.52" y1="526.40" x2="514.32" y2="526.40" stroke="#D95319" stroke-width="2.3"/>
<line x1="553.48" y1="540.50" x2="553.48" y2="553.90" stroke="#D95319" stroke-width="2.3"/>
<line x1="549.08" y1="540.50" x2="557.88" y2="540.50" stroke="#D95319" stroke-width="2.3"/>
<line x1="549.08" y1="553.90" x2="557.88" y2="553.90" stroke="#D95319" stroke-width="2.3"/>
<line x1="597.04" y1="568.80" x2="597.04" y2="572.40" stroke="#D95319" stroke-width="2.3"/>
<line x1="592.64" y1="568.80" x2="601.44" y2="568.80" stroke="#D95319" stroke-width="2.3"/>
<line x1="592.64" y1="572.40" x2="601.44" y2="572.40" stroke="#D95319" stroke-width="2.3"/>
<line x1="640.60" y1="561.95" x2="640.60" y2="567.05" stroke="#D95319" stroke-width="2.3"/>
<line x1="636.20" y1="561.95" x2="645.00" y2="561.95" stroke="#D95319" stroke-width="2.3"/>
<line x1="636.20" y1="567.05" x2="645.00" y2="567.05" stroke="#D95319" stroke-width="2.3"/>
<polyline points="422.80,550.45 466.36,546.40 509.92,504.35 553.48,547.20 597.04,570.60 640.60,564.50" fill="none" stroke="#D95319" stroke-width="2.3" stroke-linejoin="round" stroke-linecap="butt"/>
<line x1="423.10" y1="407.70" x2="447.30" y2="407.70" stroke="#0072BD" stroke-width="2.3"/>
<line x1="435.80" y1="404.30" x2="435.80" y2="411.10" stroke="#0072BD" stroke-width="2.3"/>
<line x1="431.50" y1="404.30" x2="440.10" y2="404.30" stroke="#0072BD" stroke-width="2.3"/>
<line x1="431.50" y1="411.10" x2="440.10" y2="411.10" stroke="#0072BD" stroke-width="2.3"/>
<line x1="423.10" y1="423.90" x2="447.30" y2="423.90" stroke="#D95319" stroke-width="2.3"/>
<line x1="435.80" y1="420.50" x2="435.80" y2="427.30" stroke="#D95319" stroke-width="2.3"/>
<line x1="431.50" y1="420.50" x2="440.10" y2="420.50" stroke="#D95319" stroke-width="2.3"/>
<line x1="431.50" y1="427.30" x2="440.10" y2="427.30" stroke="#D95319" stroke-width="2.3"/>
<text x="451.62" y="412.40" font-size="18" text-anchor="start" fill="#000">What</text>
<text x="451.62" y="428.40" font-size="18" text-anchor="start" fill="#000">Where</text>
<line x1="114.20" y1="548.30" x2="120.80" y2="548.30" stroke="#000" stroke-width="0.8"/>
<line x1="115.17" y1="545.97" x2="119.83" y2="550.63" stroke="#000" stroke-width="0.8"/>
<line x1="117.50" y1="545.00" x2="117.50" y2="551.60" stroke="#000" stroke-width="0.8"/>
<line x1="119.83" y1="545.97" x2="115.17" y2="550.63" stroke="#000" stroke-width="0.8"/>
<line x1="154.40" y1="460.00" x2="161.00" y2="460.00" stroke="#000" stroke-width="0.8"/>
<line x1="155.37" y1="457.67" x2="160.03" y2="462.33" stroke="#000" stroke-width="0.8"/>
<line x1="157.70" y1="456.70" x2="157.70" y2="463.30" stroke="#000" stroke-width="0.8"/>
<line x1="160.03" y1="457.67" x2="155.37" y2="462.33" stroke="#000" stroke-width="0.8"/>
<line x1="161.30" y1="460.00" x2="167.90" y2="460.00" stroke="#000" stroke-width="0.8"/>
<line x1="162.27" y1="457.67" x2="166.93" y2="462.33" stroke="#000" stroke-width="0.8"/>
<line x1="164.60" y1="456.70" x2="164.60" y2="463.30" stroke="#000" stroke-width="0.8"/>
<line x1="166.93" y1="457.67" x2="162.27" y2="462.33" stroke="#000" stroke-width="0.8"/>
<line x1="54.40" y1="924.97" x2="315.30" y2="924.97" stroke="#bdbdbd" stroke-width="1.3" stroke-dasharray="3.2 2.8"/>
<path d="M54.40,730.50 L54.40,935.20 L315.30,935.20" fill="none" stroke="#000" stroke-width="1.3" stroke-linejoin="miter" stroke-linecap="square"/>
<line x1="54.40" y1="884.03" x2="57.90" y2="884.03" stroke="#000" stroke-width="1.3"/>
<line x1="54.40" y1="832.85" x2="57.90" y2="832.85" stroke="#000" stroke-width="1.3"/>
<line x1="54.40" y1="781.68" x2="57.90" y2="781.68" stroke="#000" stroke-width="1.3"/>
<line x1="54.40" y1="730.50" x2="57.90" y2="730.50" stroke="#000" stroke-width="1.3"/>
<line x1="87.01" y1="935.20" x2="87.01" y2="931.70" stroke="#000" stroke-width="1.3"/>
<line x1="119.62" y1="935.20" x2="119.62" y2="931.70" stroke="#000" stroke-width="1.3"/>
<line x1="152.23" y1="935.20" x2="152.23" y2="931.70" stroke="#000" stroke-width="1.3"/>
<line x1="184.84" y1="935.20" x2="184.84" y2="931.70" stroke="#000" stroke-width="1.3"/>
<line x1="217.45" y1="935.20" x2="217.45" y2="931.70" stroke="#000" stroke-width="1.3"/>
<line x1="250.06" y1="935.20" x2="250.06" y2="931.70" stroke="#000" stroke-width="1.3"/>
<line x1="282.67" y1="935.20" x2="282.67" y2="931.70" stroke="#000" stroke-width="1.3"/>
<line x1="315.28" y1="935.20" x2="315.28" y2="931.70" stroke="#000" stroke-width="1.3"/>
<polyline points="73.90,914.50 80.50,741.00 86.60,875.90 90.30,885.50 93.50,868.50 96.40,824.30 99.90,831.20 103.10,821.80 106.40,828.00 109.60,845.80 112.80,826.90 116.10,848.40 118.80,817.70 122.80,813.90 125.90,837.80 129.30,798.60 132.30,814.00 134.80,855.50 139.20,862.60 142.30,896.10 145.20,903.70 148.70,894.10 152.20,904.90 154.50,896.10 158.60,893.20 161.50,910.70 163.90,923.60 167.40,920.70 171.50,927.70 174.40,916.60 178.10,907.20 181.40,916.60 184.90,925.90 189.60,934.70 193.10,935.80 200.10,935.30 205.50,933.10 213.10,934.30 219.30,934.80 222.80,930.00 226.30,929.10 230.60,930.20 236.80,928.50 242.00,930.40 249.90,929.50 254.30,933.90 260.00,936.10 263.80,935.60 272.50,935.80 281.30,935.20 287.40,930.80 291.80,929.10 297.00,930.40 301.40,931.70" fill="none" stroke="#F7931E" stroke-width="2.8" stroke-linejoin="round" stroke-linecap="butt"/>
<polyline points="74.10,904.80 77.60,909.70 80.50,921.40 84.00,926.10 90.40,930.20 93.90,929.60 100.40,931.70 106.20,930.50 112.00,931.70 116.70,933.10 128.40,932.20 138.20,933.50 141.70,931.80 145.20,929.20 148.70,930.40 152.80,926.50 157.40,923.00 160.90,917.70 165.00,911.30 169.10,917.20 173.20,923.00 177.90,925.90 181.40,923.80 184.90,926.50 189.00,926.50 193.10,929.40 196.60,931.20 200.10,931.50 204.40,928.50 208.80,929.50 214.00,930.80 221.90,932.10 230.60,932.60 239.40,933.00 246.40,931.70 250.80,932.80 254.30,931.70 260.00,933.50 263.80,933.70 272.50,933.50 281.30,933.50 288.30,931.70 294.40,932.80 301.40,933.90" fill="none" stroke="#29ABE2" stroke-width="2.8" stroke-linejoin="round" stroke-linecap="butt"/>
<text x="109.28" y="951.35" font-size="18.4" text-anchor="start" fill="#000">20</text>
<text x="174.76" y="951.35" font-size="18.4" text-anchor="start" fill="#000">40</text>
<text x="239.72" y="951.35" font-size="18.4" text-anchor="start" fill="#000">60</text>
<text x="305.01" y="951.35" font-size="18.4" text-anchor="start" fill="#000">80</text>
<text x="26.29" y="837.78" font-size="18.4" text-anchor="start" fill="#000">0.5</text>
<text x="40.47" y="735.73" font-size="18.4" text-anchor="start" fill="#000">1</text>
<text x="41.59" y="951.35" font-size="18.4" text-anchor="start" fill="#000">0</text>
<text x="108.97" y="705.80" font-size="18" text-anchor="start" fill="#000">Within domain type</text>
<text x="3.67" y="690.40" font-size="29" font-weight="bold" text-anchor="start" fill="#000">e</text>
<text x="135.10" y="970.60" font-size="18" text-anchor="start" fill="#000">Trial number</text>
<text transform="translate(13.00,861.70) rotate(-90)" font-size="18">p value</text>
<line x1="205.80" y1="739.70" x2="230.00" y2="739.70" stroke="#29ABE2" stroke-width="2.8"/>
<line x1="205.80" y1="756.40" x2="230.00" y2="756.40" stroke="#F7931E" stroke-width="2.8"/>
<text x="234.36" y="744.60" font-size="18" text-anchor="start" fill="#000">Act to Act</text>
<text x="233.85" y="761.80" font-size="18" text-anchor="start" fill="#000">Obj to Obj</text>
<line x1="402.10" y1="924.97" x2="663.00" y2="924.97" stroke="#bdbdbd" stroke-width="1.3" stroke-dasharray="3.2 2.8"/>
<path d="M402.10,730.50 L402.10,935.20 L663.00,935.20" fill="none" stroke="#000" stroke-width="1.3" stroke-linejoin="miter" stroke-linecap="square"/>
<line x1="402.10" y1="884.03" x2="405.60" y2="884.03" stroke="#000" stroke-width="1.3"/>
<line x1="402.10" y1="832.85" x2="405.60" y2="832.85" stroke="#000" stroke-width="1.3"/>
<line x1="402.10" y1="781.68" x2="405.60" y2="781.68" stroke="#000" stroke-width="1.3"/>
<line x1="402.10" y1="730.50" x2="405.60" y2="730.50" stroke="#000" stroke-width="1.3"/>
<line x1="434.71" y1="935.20" x2="434.71" y2="931.70" stroke="#000" stroke-width="1.3"/>
<line x1="467.32" y1="935.20" x2="467.32" y2="931.70" stroke="#000" stroke-width="1.3"/>
<line x1="499.93" y1="935.20" x2="499.93" y2="931.70" stroke="#000" stroke-width="1.3"/>
<line x1="532.54" y1="935.20" x2="532.54" y2="931.70" stroke="#000" stroke-width="1.3"/>
<line x1="565.15" y1="935.20" x2="565.15" y2="931.70" stroke="#000" stroke-width="1.3"/>
<line x1="597.76" y1="935.20" x2="597.76" y2="931.70" stroke="#000" stroke-width="1.3"/>
<line x1="630.37" y1="935.20" x2="630.37" y2="931.70" stroke="#000" stroke-width="1.3"/>
<line x1="662.98" y1="935.20" x2="662.98" y2="931.70" stroke="#000" stroke-width="1.3"/>
<polyline points="420.30,805.20 423.20,849.60 427.30,857.70 430.80,836.70 437.00,731.10 441.30,738.40 443.60,763.00 446.50,755.60 450.00,798.00 453.50,731.40 456.50,814.70 460.00,748.90 463.50,755.90 466.40,779.30 469.70,772.90 472.20,836.70 475.70,854.80 479.20,853.10 482.70,879.30 486.80,863.00 489.40,823.80 492.40,861.80 499.00,739.60 502.30,792.80 508.90,732.60 512.80,743.70 515.10,824.80 519.40,858.00 525.20,785.90 528.10,899.80 531.70,880.30 535.30,883.90 541.30,811.20 544.60,874.00 548.10,860.10 551.30,804.00 554.50,848.40 557.60,809.80 561.10,812.00 564.30,766.50 567.60,786.90 570.80,738.40 573.90,788.10 577.40,765.90 579.50,856.10 583.90,903.60 587.30,869.40 590.80,871.10 593.60,897.20 596.90,875.20 600.10,910.50 602.60,859.00 606.40,833.00 610.00,800.00 613.80,821.00 616.30,852.60 619.20,881.80 623.00,895.70 626.50,886.00 629.50,823.20 632.80,879.50 636.80,831.00 639.40,795.90 642.80,826.40 645.90,792.50 649.30,800.20" fill="none" stroke="#B9672C" stroke-width="2.8" stroke-linejoin="round" stroke-linecap="butt"/>
<polyline points="421.40,922.00 427.80,934.90 433.70,930.50 437.80,934.70 450.00,935.50 466.40,935.10 473.40,933.70 480.40,934.90 487.40,933.70 494.90,933.80 500.20,923.10 505.40,907.90 509.30,904.10 512.10,853.60 515.40,872.90 522.10,832.60 525.30,871.20 528.40,823.90 531.90,818.20 535.10,835.50 538.20,892.00 544.30,877.00 548.10,902.00 550.40,911.40 555.10,921.90 560.90,933.60 565.00,934.70 575.00,934.20 583.20,930.70 590.20,933.80 599.00,930.70 604.20,933.00 610.00,935.30 627.60,933.80 632.80,930.10 636.30,929.80 639.20,927.50 643.90,933.00 648.00,934.20" fill="none" stroke="#1C809E" stroke-width="2.8" stroke-linejoin="round" stroke-linecap="butt"/>
<text x="456.98" y="951.35" font-size="18.4" text-anchor="start" fill="#000">20</text>
<text x="522.46" y="951.35" font-size="18.4" text-anchor="start" fill="#000">40</text>
<text x="587.42" y="951.35" font-size="18.4" text-anchor="start" fill="#000">60</text>
<text x="652.71" y="951.35" font-size="18.4" text-anchor="start" fill="#000">80</text>
<text x="373.99" y="837.78" font-size="18.4" text-anchor="start" fill="#000">0.5</text>
<text x="388.17" y="735.73" font-size="18.4" text-anchor="start" fill="#000">1</text>
<text x="389.29" y="951.35" font-size="18.4" text-anchor="start" fill="#000">0</text>
<text x="453.76" y="705.80" font-size="18" text-anchor="start" fill="#000">Across domain type</text>
<text x="353.90" y="690.40" font-size="29" font-weight="bold" text-anchor="start" fill="#000">f</text>
<text x="482.70" y="970.60" font-size="18" text-anchor="start" fill="#000">Trial number</text>
<text transform="translate(361.00,861.70) rotate(-90)" font-size="18">p value</text>
<line x1="577.90" y1="736.60" x2="602.10" y2="736.60" stroke="#1C809E" stroke-width="2.8"/>
<line x1="577.90" y1="753.60" x2="602.10" y2="753.60" stroke="#B9672C" stroke-width="2.8"/>
<text x="605.65" y="741.50" font-size="18" text-anchor="start" fill="#000">Obj to Act</text>
<text x="606.76" y="759.00" font-size="18" text-anchor="start" fill="#000">Act to Obj</text>
</svg>
</body></html>
